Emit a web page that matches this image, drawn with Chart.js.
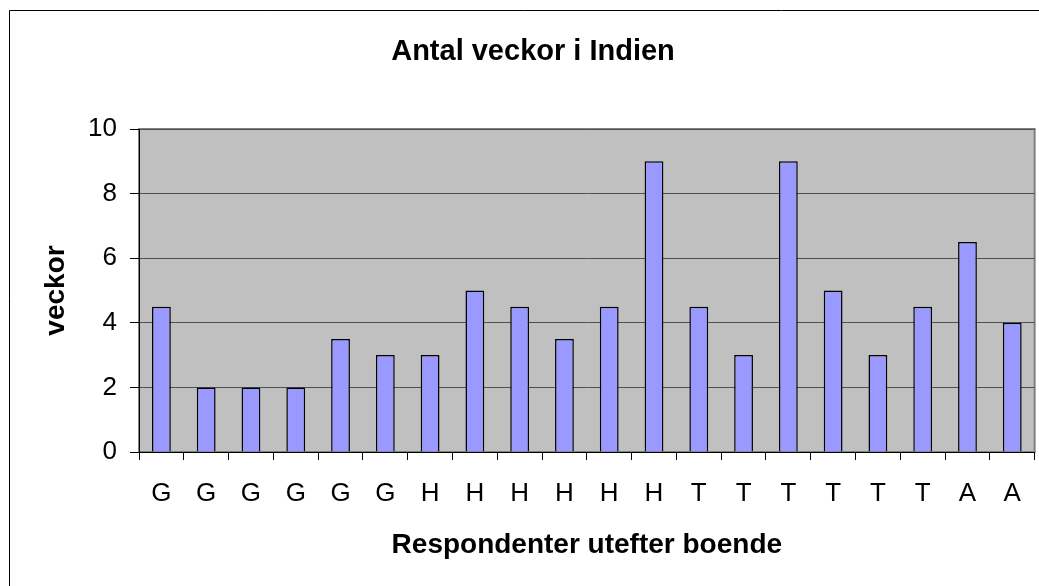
<!DOCTYPE html>
<html>
<head>
<meta charset="utf-8">
<script src="https://cdn.jsdelivr.net/npm/chart.js@4/dist/chart.umd.min.js"></script>
<style>
  html, body { margin: 0; padding: 0; background: #fff; }
  #wrap { width: 1039px; height: 586px; }
</style>
</head>
<body>
<div id="wrap"><canvas id="chart"></canvas></div>
<script>
// values
const categories = ['G', 'G', 'G', 'G', 'G', 'G', 'H', 'H', 'H', 'H', 'H', 'H',
                    'T', 'T', 'T', 'T', 'T', 'T', 'A', 'A'];
const weeks = [4.5, 2, 2, 2, 3.5, 3, 3, 5, 4.5, 3.5, 4.5, 9,
               4.5, 3, 9, 5, 3, 4.5, 6.5, 4];
const yTicks = [0, 2, 4, 6, 8, 10];

const fontFamily = '"Liberation Sans", Arial, sans-serif';

// gray plot area and the outer frame of the chart
const frame = {
    id: 'frame',
    beforeDraw(chart) {
        const ctx = chart.ctx;
        const a = chart.chartArea;
        ctx.save();
        ctx.fillStyle = '#fff';
        ctx.fillRect(0, 0, chart.width, chart.height);
        ctx.strokeStyle = '#000';
        ctx.lineWidth = 1;
        ctx.beginPath();
        ctx.moveTo(9.5, chart.height);
        ctx.lineTo(9.5, 10.5);
        ctx.lineTo(chart.width, 10.5);
        ctx.stroke();
        ctx.fillStyle = '#c0c0c0';
        ctx.fillRect(a.left, a.top, a.right - a.left, a.bottom - a.top);
        ctx.strokeStyle = '#808080';
        ctx.lineWidth = 2;
        ctx.strokeRect(a.left, a.top, a.right - a.left, a.bottom - a.top);
        ctx.restore();
    }
};

new Chart(document.getElementById('chart'), {
    type: 'bar',
    data: {
        labels: categories,
        datasets: [{
            label: 'veckor',
            data: weeks,
            backgroundColor: '#9999ff',
            borderColor: '#000',
            borderWidth: 1.5,
            categoryPercentage: 0.42,
            barPercentage: 1
        }]
    },
    options: {
        responsive: true,
        maintainAspectRatio: false,
        animation: false,
        layout: { padding: { left: 30, right: 3, top: 0, bottom: 0 } },
        plugins: {
            legend: { display: false },
            tooltip: { enabled: false },
            title: {
                display: true,
                text: 'Antal veckor i Indien',
                color: '#000',
                font: { family: fontFamily, size: 29, weight: 'bold' },
                padding: { top: 34.6, bottom: 59.6 }
            }
        },
        scales: {
            x: {
                offset: true,
                grid: {
                    offset: true,
                    drawOnChartArea: false,
                    tickLength: 8,
                    tickColor: '#000'
                },
                border: { color: '#000', width: 1 },
                ticks: {
                    color: '#000',
                    padding: 18,
                    maxRotation: 0,
                    autoSkip: false,
                    font: { family: fontFamily, size: 26 }
                },
                title: {
                    display: true,
                    text: 'Respondenter utefter boende',
                    color: '#000',
                    font: { family: fontFamily, size: 28, weight: 'bold' },
                    padding: { top: 1, bottom: 24.2 }
                }
            },
            y: {
                min: 0,
                max: 10,
                afterBuildTicks(scale) {
                    scale.ticks = yTicks.map(v => ({ value: v }));
                },
                grid: {
                    color: '#505050',
                    tickLength: 9,
                    tickColor: '#000'
                },
                border: { color: '#000', width: 1 },
                ticks: {
                    color: '#000',
                    padding: 13,
                    font: { family: fontFamily, size: 26 }
                },
                title: {
                    display: true,
                    text: 'veckor',
                    color: '#000',
                    font: { family: fontFamily, size: 28, weight: 'bold' },
                    padding: { top: 9.2, bottom: 2.3 }
                }
            }
        }
    },
    plugins: [frame]
});
</script>
</body>
</html>
